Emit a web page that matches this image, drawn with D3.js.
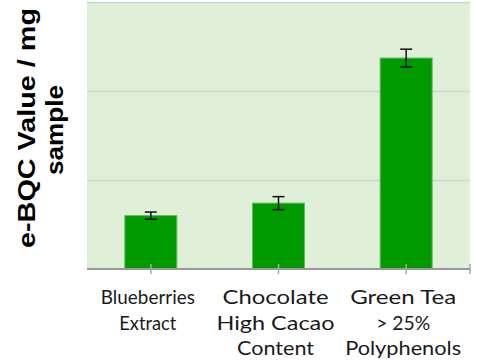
<!DOCTYPE html>
<html>
<head>
<meta charset="utf-8">
<script src="https://cdn.jsdelivr.net/npm/d3@7"></script>
<style>
  html, body { margin: 0; padding: 0; background: #ffffff; }
  svg { display: block; }
</style>
</head>
<body>
<svg id="chart" width="477" height="360"></svg>
<script>
// Antioxidant capacity per sample (e-BQC value per mg), with error ranges
const categories = ["Blueberries Extract", "Chocolate High Cacao Content", "Green Tea > 25% Polyphenols"];
const labelLines = [
  ["Blueberries", "Extract"],
  ["Chocolate", "High Cacao", "Content"],
  ["Green Tea", "> 25%", "Polyphenols"]
];
const values = [0.60, 0.74, 2.37];
const errors = [0.04, 0.073, 0.10];
const yTicks = [1, 2, 3];
const yTitle = ["e-BQC Value / mg", "sample"];

// layout: set widths for the wide geometric label face
const labelWidths = [
  [94, 57],
  [106, 118, 77],
  [106, 54, 116]
];

const svg = d3.select("#chart");
const plot = { left: 87, right: 470, top: 2, bottom: 269 };

const x = d3.scaleBand()
  .domain(categories)
  .range([plot.left, plot.right])
  .paddingInner(0.593)
  .paddingOuter(0.2965);

const y = d3.scaleLinear()
  .domain([0, 3])
  .range([plot.bottom, plot.top]);

// plot background
svg.append("rect")
  .attr("x", plot.left)
  .attr("y", plot.top)
  .attr("width", plot.right - plot.left)
  .attr("height", plot.bottom - plot.top)
  .attr("fill", "#dfefd8");

// horizontal gridlines
svg.append("g")
  .selectAll("line")
  .data(yTicks)
  .join("line")
  .attr("x1", plot.left)
  .attr("x2", plot.right)
  .attr("y1", d => Math.round(y(d)) + 0.5)
  .attr("y2", d => Math.round(y(d)) + 0.5)
  .attr("stroke", "#d2d2d2")
  .attr("stroke-width", 1.5);

// bars
svg.append("g")
  .selectAll("rect")
  .data(categories)
  .join("rect")
  .attr("x", d => x(d))
  .attr("y", (d, i) => y(values[i]))
  .attr("width", x.bandwidth())
  .attr("height", (d, i) => y(0) - y(values[i]))
  .attr("fill", "#009900")
  .attr("stroke", "#5dbb5d")
  .attr("stroke-width", 1);

// error bars
const capHalf = 6;
const eb = svg.append("g")
  .attr("stroke", "#111111")
  .attr("stroke-width", 1.5)
  .attr("fill", "none");
categories.forEach((c, i) => {
  const cx = x(c) + x.bandwidth() / 2;
  const hi = y(values[i] + errors[i]);
  const lo = y(values[i] - errors[i]);
  eb.append("line").attr("x1", cx).attr("x2", cx).attr("y1", hi).attr("y2", lo);
  eb.append("line").attr("x1", cx - capHalf).attr("x2", cx + capHalf).attr("y1", hi).attr("y2", hi);
  eb.append("line").attr("x1", cx - capHalf).attr("x2", cx + capHalf).attr("y1", lo).attr("y2", lo);
});

// category axis line and ticks
svg.append("line")
  .attr("x1", plot.left)
  .attr("x2", plot.right)
  .attr("y1", plot.bottom)
  .attr("y2", plot.bottom)
  .attr("stroke", "#999999")
  .attr("stroke-width", 2);

const tickXs = categories.map(c => x(c) + x.bandwidth() / 2).concat([plot.right]);
svg.append("g")
  .selectAll("line")
  .data(tickXs)
  .join("line")
  .attr("x1", d => d)
  .attr("x2", d => d)
  .attr("y1", plot.bottom - 5)
  .attr("y2", plot.bottom + 5)
  .attr("stroke", "#a6a6a6")
  .attr("stroke-width", 1.5);

// category labels
const lineGap = 25.5;
const labels = svg.append("g")
  .attr("font-family", "Lato, 'DejaVu Sans', sans-serif")
  .attr("font-size", 20)
  .attr("fill", "#1a1a1a")
  .attr("text-anchor", "middle");
categories.forEach((c, i) => {
  const cx = x(c) + x.bandwidth() / 2 - 3;
  labelLines[i].forEach((t, j) => {
    labels.append("text")
      .attr("x", cx)
      .attr("y", 304 + j * lineGap)
      .attr("textLength", labelWidths[i][j])
      .attr("lengthAdjust", "spacingAndGlyphs")
      .text(t);
  });
});

// value axis title
const title = svg.append("g")
  .attr("font-family", "'Liberation Sans', Arial, sans-serif")
  .attr("font-weight", "bold")
  .attr("font-size", 23)
  .attr("fill", "#000000")
  .attr("text-anchor", "middle");
title.append("text")
  .attr("transform", "translate(35,128) rotate(-90)")
  .attr("textLength", 240)
  .attr("lengthAdjust", "spacingAndGlyphs")
  .text(yTitle[0]);
title.append("text")
  .attr("transform", "translate(63,130) rotate(-90)")
  .attr("textLength", 90)
  .attr("lengthAdjust", "spacingAndGlyphs")
  .text(yTitle[1]);
</script>
</body>
</html>
